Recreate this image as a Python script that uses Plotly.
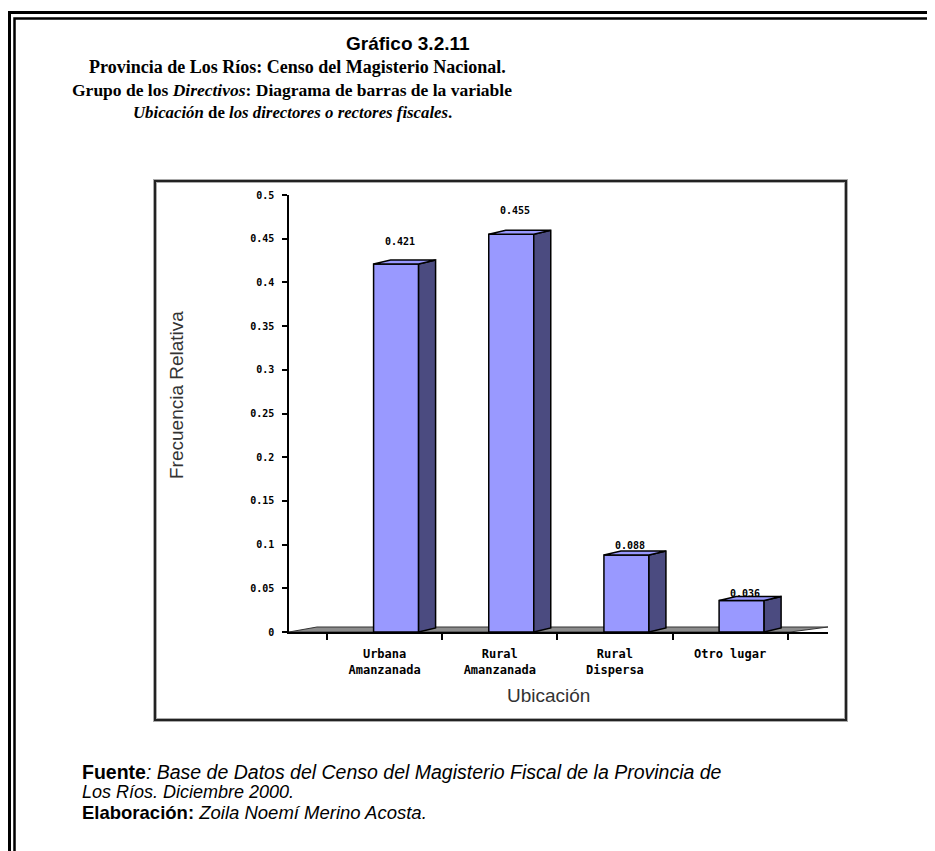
import plotly.graph_objects as go

# ---- data ----
categories = ["Urbana<br>Amanzanada", "Rural<br>Amanzanada", "Rural<br>Dispersa", "Otro lugar"]
values = [0.421, 0.455, 0.088, 0.036]
value_labels = ["0.421", "0.455", "0.088", "0.036"]
y_ticks = [0, 0.05, 0.1, 0.15, 0.2, 0.25, 0.3, 0.35, 0.4, 0.45, 0.5]

# ---- geometry / style (screen pixel targets; page body has an 8px margin) ----
BODY = 8
SW, SH = 935, 851
W, H = SW - BODY, SH - BODY
PX_L, PX_R, PY_T, PY_B = 289, 828, 195, 632   # plot area on screen
L, T = PX_L - BODY, PY_T - BODY
R, B = SW - PX_R, SH - PY_B
PW, PH = PX_R - PX_L, PY_B - PY_T
XR = [-0.83, 3.85]
YR = [0, 0.5]
px_per_x = PW / (XR[1] - XR[0])
px_per_y = PH / (YR[1] - YR[0])

off = 11.5 / px_per_x        # perspective shift of bars
bw = 45 / px_per_x           # front face width
ddx = 17 / px_per_x          # depth in x
ddy = 4 / px_per_y           # depth in y

FRONT = "#9999FF"
SIDE = "#4B4B80"
TICKFONT = "DejaVu Sans Mono"

def px2x(px):
    return (px - PX_L) / PW

def py2y(py):
    return (PY_B - py) / PH

xs = list(range(len(categories)))
fig = go.Figure()

fig.add_trace(go.Bar(
    x=[i + off for i in xs], y=values, width=bw,
    marker=dict(color=FRONT, line=dict(color="black", width=1.5)),
    showlegend=False, hoverinfo="skip"))

for i, v in zip(xs, values):
    xl = i + off - bw / 2
    xr = i + off + bw / 2
    # side face
    fig.add_trace(go.Scatter(
        x=[xr, xr + ddx, xr + ddx, xr, xr], y=[0, ddy, v + ddy, v, 0],
        mode="lines", fill="toself", fillcolor=SIDE,
        line=dict(color="black", width=1.5), showlegend=False, hoverinfo="skip"))
    # top face
    fig.add_trace(go.Scatter(
        x=[xl, xr, xr + ddx, xl + ddx, xl], y=[v, v, v + ddy, v + ddy, v],
        mode="lines", fill="toself", fillcolor=FRONT,
        line=dict(color="black", width=1.5), showlegend=False, hoverinfo="skip"))

annotations = []
for i, v, t in zip(xs, values, value_labels):
    annotations.append(dict(
        x=i + off + 0.03, y=v, xref="x", yref="y", text=t, showarrow=False,
        yshift=6 + 40 * v, xanchor="center", yanchor="middle",
        font=dict(family=TICKFONT, size=10, color="black", weight="bold")))

def ann(text, cx, cy, size, family, xanchor="center", angle=0, color="black"):
    annotations.append(dict(x=px2x(cx), y=py2y(cy), xref="paper", yref="paper",
                            text=text, showarrow=False, xanchor=xanchor,
                            yanchor="middle", textangle=angle,
                            font=dict(family=family, size=size, color=color)))

# axis titles
ann("Ubicación", 548, 695, 19, "Liberation Sans", color="#333333")
ann("Frecuencia Relativa", 176, 395, 19, "Liberation Sans", angle=-90, color="#333333")

# page title
ann("<b>Gráfico 3.2.11</b>", 408, 43, 19, "Liberation Sans")
ann("<b>Provincia de Los Ríos: Censo del Magisterio Nacional.</b>", 297, 67, 18, "Liberation Serif")
ann("<b>Grupo de los <i>Directivos</i>: Diagrama de barras de la variable</b>", 292, 90, 17.5, "Liberation Serif")
ann("<b><i>Ubicación</i> de <i>los directores o rectores fiscales</i>.</b>", 292, 113, 16.8, "Liberation Serif")

# footer
ann("<b>Fuente</b><i>: Base de Datos del Censo del Magisterio Fiscal de la Provincia de</i>", 80, 772, 19.5, "Liberation Sans", xanchor="left")
ann("<i>Los Ríos. Diciembre 2000.</i>", 80, 792, 18, "Liberation Sans", xanchor="left")
ann("<b>Elaboración:</b> <i>Zoila Noemí Merino Acosta.</i>", 80, 812, 18.5, "Liberation Sans", xanchor="left")

shapes = [
    # floor of the 3D chart
    dict(type="path", xref="x", yref="y", layer="below",
         path=f"M {XR[0]},0 L {XR[1] - 38 / px_per_x},0 L {XR[1]},{5 / px_per_y} "
              f"L {XR[0] + 28 / px_per_x},{5 / px_per_y} Z",
         fillcolor="#8C8C8C", line=dict(color="#333333", width=1)),
    # chart frame
    dict(type="rect", xref="paper", yref="paper", layer="below",
         x0=px2x(155), x1=px2x(846), y0=py2y(720), y1=py2y(181),
         line=dict(color="#AAAAAA", width=4)),
    dict(type="rect", xref="paper", yref="paper", layer="below",
         x0=px2x(155), x1=px2x(846), y0=py2y(720), y1=py2y(181),
         line=dict(color="#222222", width=2)),
    # outer double border
    dict(type="rect", xref="paper", yref="paper",
         x0=px2x(9.5), x1=px2x(960), y0=py2y(880), y1=py2y(12.5),
         line=dict(color="black", width=3)),
    dict(type="rect", xref="paper", yref="paper",
         x0=px2x(14.5), x1=px2x(960), y0=py2y(880), y1=py2y(18.5),
         line=dict(color="black", width=2.5)),
]

fig.update_layout(
    width=W, height=H,
    margin=dict(l=L, r=R, t=T, b=B, pad=0),
    paper_bgcolor="white", plot_bgcolor="white",
    showlegend=False,
    annotations=annotations, shapes=shapes,
    xaxis=dict(range=XR, tickmode="array", tickvals=xs, ticktext=categories,
               ticks="", showgrid=False, zeroline=False,
               showline=True, linecolor="black", linewidth=1.5,
               ticklabelstandoff=10,
               tickfont=dict(family=TICKFONT, size=12, color="black", weight="bold"),
               minor=dict(tickmode="array", tickvals=[-0.5, 0.5, 1.5, 2.5, 3.5],
                          ticks="outside", ticklen=6, tickwidth=1.5, tickcolor="black",
                          showgrid=False),
               fixedrange=True),
    yaxis=dict(range=YR, tickmode="array", tickvals=y_ticks,
               ticks="outside", ticklen=5, tickwidth=1.5, tickcolor="black",
               showgrid=False, zeroline=False,
               showline=True, linecolor="black", linewidth=1.5,
               ticklabelstandoff=6,
               tickfont=dict(family=TICKFONT, size=10, color="black", weight="bold"),
               fixedrange=True),
)

fig.write_html("out.html")
